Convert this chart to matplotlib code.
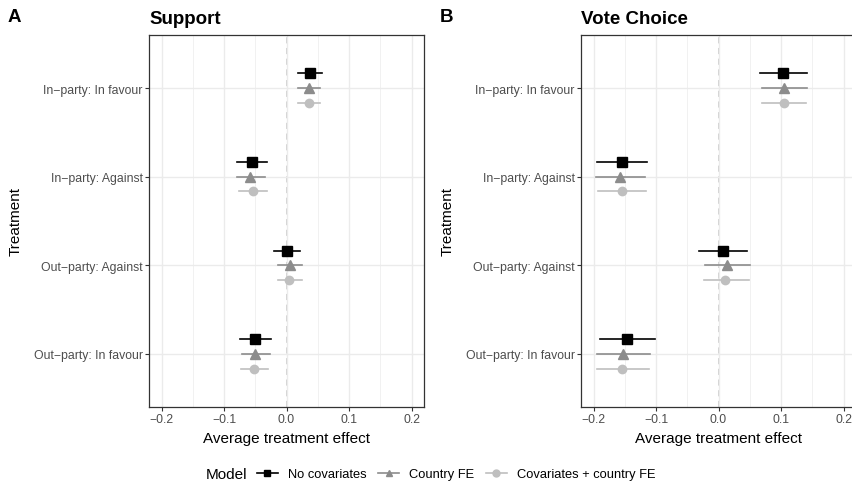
import matplotlib
matplotlib.use("Agg")
import matplotlib.pyplot as plt
from matplotlib.lines import Line2D

plt.rcParams['font.family'] = ['Liberation Sans', 'DejaVu Sans']

# treatments, bottom to top
treatments = ["Out\u2212party: In favour", "Out\u2212party: Against",
              "In\u2212party: Against", "In\u2212party: In favour"]
models = ["No covariates", "Country FE", "Covariates + country FE"]

# Support: estimate, lower, upper per model (rows follow treatments)
sup_est = [[-0.051, 0.000, -0.055, 0.037],
           [-0.051, 0.005, -0.058, 0.036],
           [-0.052, 0.004, -0.054, 0.036]]
sup_lo = [[-0.075, -0.020, -0.079, 0.019],
          [-0.072, -0.013, -0.079, 0.019],
          [-0.073, -0.013, -0.076, 0.018]]
sup_hi = [[-0.025, 0.022, -0.031, 0.056],
          [-0.027, 0.025, -0.035, 0.054],
          [-0.029, 0.024, -0.031, 0.053]]

# Vote choice
vote_est = [[-0.146, 0.007, -0.155, 0.103],
            [-0.153, 0.014, -0.157, 0.105],
            [-0.154, 0.011, -0.155, 0.104]]
vote_lo = [[-0.189, -0.031, -0.194, 0.067],
           [-0.194, -0.022, -0.196, 0.070],
           [-0.195, -0.023, -0.193, 0.070]]
vote_hi = [[-0.102, 0.046, -0.115, 0.141],
           [-0.109, 0.051, -0.117, 0.142],
           [-0.112, 0.049, -0.116, 0.140]]

colors = ["#000000", "#8c8c8c", "#bfbfbf"]
markers = ["s", "^", "o"]
offsets = [0.166, 0.0, -0.166]

fig = plt.figure(figsize=(8.53, 4.85), dpi=100)
W, H = 853, 485
TS = 8.8


def panel(left, est, lo, hi, title, letter, letter_x):
    ax = fig.add_axes([left / W, 1 - 408 / H, 275 / W, 372 / H])
    ax.set_xlim(-0.22, 0.22)
    ax.set_ylim(0.4, 4.6)
    ax.set_xticks([-0.2, -0.1, 0.0, 0.1, 0.2])
    ax.set_xticklabels(["\u22120.2", "\u22120.1", "0.0", "0.1", "0.2"])
    ax.set_xticks([-0.15, -0.05, 0.05, 0.15], minor=True)
    ax.set_yticks([1, 2, 3, 4])
    ax.set_yticklabels(treatments)
    ax.grid(True, which="major", color="#ebebeb", lw=1.0, zorder=0)
    ax.grid(True, which="minor", axis="x", color="#ebebeb", lw=0.5, zorder=0)
    ax.tick_params(which="minor", length=0)
    ax.tick_params(which="major", length=3, color="#333333", width=0.8,
                   labelsize=TS, labelcolor="#4d4d4d", pad=1.5)
    for s in ax.spines.values():
        s.set_color("#333333")
        s.set_linewidth(0.9)
    ax.axvline(0, color="#c4c4c4", ls=(0, (4, 3)), lw=1.1, zorder=1)
    for m in range(3):
        ys = [i + 1 + offsets[m] for i in range(4)]
        for i in range(4):
            ax.plot([lo[m][i], hi[m][i]], [ys[i], ys[i]], color=colors[m],
                    lw=1.2, zorder=3)
        ax.plot(est[m], ys, ls="none", marker=markers[m], color=colors[m],
                ms=6.5 if m < 2 else 6, zorder=4)
    ax.set_xlabel("Average treatment effect", fontsize=11, labelpad=4)
    ax.set_ylabel("Treatment", fontsize=11, labelpad=8)
    ax.set_title(title, loc="left", fontsize=13.5, fontweight="bold", pad=9)
    fig.text(letter_x / W, 1 - 18 / H, letter, fontsize=13.5, fontweight="bold",
             va="center", ha="left")
    return ax


panel(149, sup_est, sup_lo, sup_hi, "Support", "A", 8)
panel(581, vote_est, vote_lo, vote_hi, "Vote Choice", "B", 440)

fig.text(206 / W, 1 - 475 / H, "Model", fontsize=11, va="center", ha="left")
handles = [Line2D([0], [0], color=colors[m], marker=markers[m], lw=1.2, ms=5)
           for m in range(3)]
fig.legend(handles, models, loc="center left", bbox_to_anchor=(257 / W, 1 - 475 / H),
           ncol=3, frameon=False, fontsize=9.3, handlelength=1.6,
           handletextpad=0.8, columnspacing=0.9, borderaxespad=0, borderpad=0)

fig.savefig("out.png", dpi=100)
